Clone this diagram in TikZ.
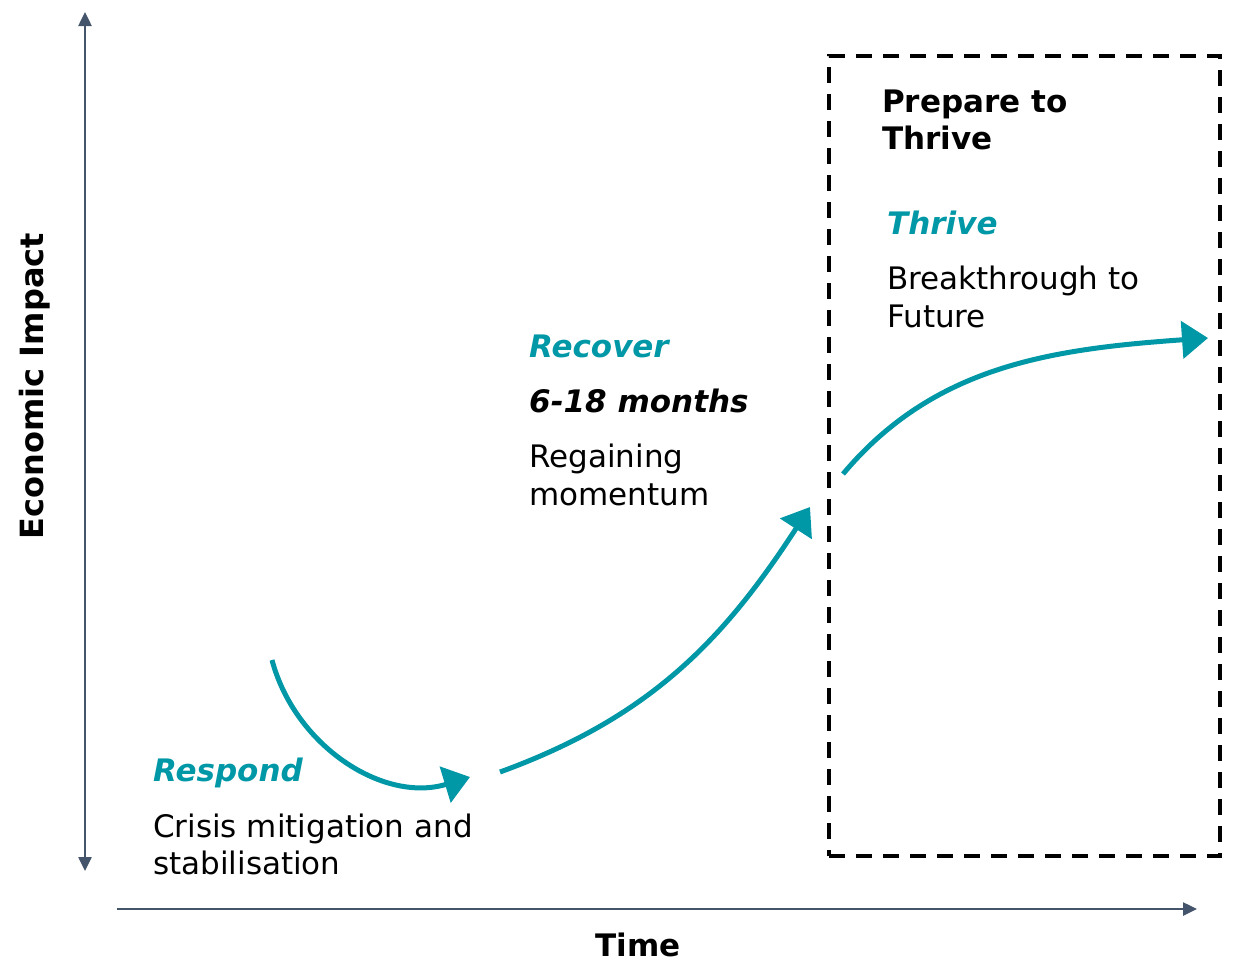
\documentclass[tikz,border=0pt]{standalone}
\usepackage{fontspec}
\setmainfont{DejaVu Sans}
\usetikzlibrary{positioning,arrows.meta}
\definecolor{tealline}{RGB}{0,152,166}
\definecolor{slate}{RGB}{68,84,106}

\begin{document}
\begin{tikzpicture}[x=1pt,y=-1pt,node distance=37pt]
	\tikzstyle{axis} = [line width=2.5pt,draw=slate,-{Triangle[length=14pt,width=13pt]}]
	\tikzstyle{curve} = [line width=5pt,draw=tealline,-{Triangle[length=26pt,width=37pt]}]
	\tikzstyle{dashbox} = [rectangle,line width=3.5pt,draw=black,dash pattern=on 16pt off 11pt,
	minimum width=391pt,minimum height=800pt,inner sep=0pt]
	\tikzstyle{body} = [inner sep=0pt,anchor=base west,font=\fontsize{31}{37}\selectfont]
	\tikzstyle{phase} = [body,text=tealline,font=\fontsize{31}{37}\selectfont\bfseries\itshape]
	\tikzstyle{head} = [inner sep=0pt,font=\fontsize{31}{37}\selectfont\bfseries]

	\useasboundingbox (0,0) rectangle (1237,959);

	% axes
	\coordinate (ybot) at (85,871);
	\coordinate (ytop) at (85,12);
	\coordinate (xleft) at (117,909);
	\coordinate (xright) at (1197,909);
	\draw[axis,{Triangle[length=14pt,width=13pt]}-{Triangle[length=14pt,width=13pt]}] (ybot) -- (ytop);
	\draw[axis] (xleft) -- (xright);
	\node (ylabel) [head,font=\fontsize{32}{38}\selectfont\bfseries,rotate=90,anchor=base] at (43,386) {Economic Impact};
	\node (xlabel) [head,anchor=base] at (638,956) {Time};

	% thrive box
	\node (box) [dashbox] at (1024.5,456) {};

	% respond
	\node (respond) [phase] at (153,781) {Respond};
	\node (crisis) [below=56pt of respond.base west,body] {Crisis mitigation and};
	\node (stab) [below=37pt of crisis.base west,body] {stabilisation};

	% recover
	\node (recover) [phase] at (529,357) {Recover};
	\node (months) [below=55pt of recover.base west,body,font=\fontsize{31}{37}\selectfont\bfseries\itshape] {6-18 months};
	\node (regain) [below=55pt of months.base west,body] {Regaining};
	\node (momentum) [below=38pt of regain.base west,body] {momentum};

	% prepare to thrive
	\node (prepare) [head,anchor=base west] at (882,112) {Prepare to};
	\node (prepare2) [below=37pt of prepare.base west,head,anchor=base west] {Thrive};
	\node (thrive) [phase] at (887,234) {Thrive};
	\node (breakthrough) [below=55pt of thrive.base west,body] {Breakthrough to};
	\node (future) [below=38pt of breakthrough.base west,body] {Future};

	% curves
	\coordinate (dipstart) at (272,660);
	\coordinate (dipend) at (470,777);
	\coordinate (risestart) at (500,772);
	\coordinate (riseend) at (810,507);
	\coordinate (growstart) at (843,474);
	\coordinate (growend) at (1208,338);
	\draw[curve] (dipstart) to[out=-75,in=197] (dipend);
	\draw[curve] (risestart) to[out=20,in=237] (riseend);
	\draw[curve] (growstart) to[out=50,in=184,out distance=140pt,in distance=160pt] (growend);
\end{tikzpicture}
\end{document}
